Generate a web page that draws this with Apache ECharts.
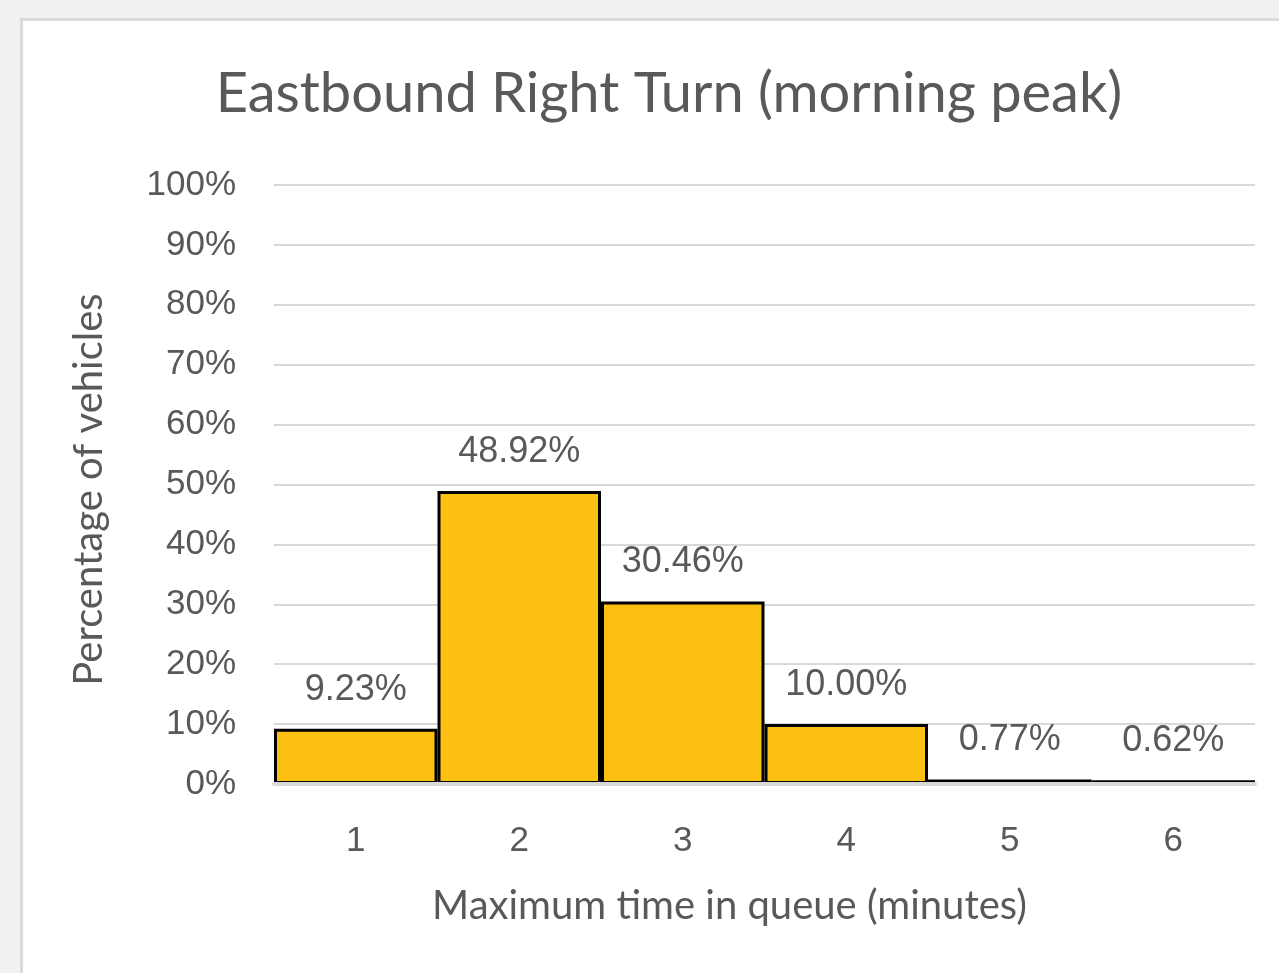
<!DOCTYPE html>
<html>
<head>
<meta charset="utf-8">
<script src="https://cdn.jsdelivr.net/npm/echarts@6/dist/echarts.min.js"></script>
<style>
    html, body { margin: 0; padding: 0; background: #eff1f3; }
    #card { position: absolute; left: 20px; top: 18px; width: 1300px; height: 1000px; background: #fff; border: 3px solid #dadada; }
    #chart { position: absolute; left: 0; top: 0; width: 1279px; height: 973px; }
</style>
</head>
<body>
<div id="card"></div>
<div id="chart"></div>
<script>
// 排队时间分组
const categories = ['1', '2', '3', '4', '5', '6'];
// 车辆百分比
const shares = [9.23, 48.92, 30.46, 10.00, 0.77, 0.62];
// y轴刻度
const yMin = 0;
const yMax = 100;
const yStep = 10;

const textColor = '#595959';
const titleFont = 'Lato, "Open Sans", sans-serif';
const numFont = '"Liberation Sans", Arial, sans-serif';

let myChart = echarts.init(document.getElementById('chart'));

option = {
    backgroundColor: 'transparent',
    title: {
        text: 'Eastbound Right Turn (morning peak)',
        left: 664,
        top: 61,
        textAlign: 'center',
        textStyle: {
            color: textColor,
            fontFamily: titleFont,
            fontWeight: 'normal',
            fontSize: 56
        }
    },
    grid: {
        left: 274,
        right: 24,
        top: 185,
        bottom: 189
    },
    xAxis: {
        type: 'category',
        data: categories,
        z: 10,
        name: 'Maximum time in queue (minutes)',
        nameLocation: 'middle',
        nameGap: 102,
        nameTextStyle: {
            color: textColor,
            fontFamily: titleFont,
            fontSize: 40,
            verticalAlign: 'top',
            padding: [0, 70, 0, 0]  // 标题略偏左
        },
        axisLine: {
            lineStyle: { color: '#d9d9d9', width: 4 }  // 底部轴线盖住柱子下边框
        },
        axisTick: { show: false },
        axisLabel: {
            color: textColor,
            fontFamily: numFont,
            fontSize: 35,
            margin: 40
        }
    },
    yAxis: {
        type: 'value',
        min: yMin,
        max: yMax,
        interval: yStep,
        name: 'Percentage of vehicles',
        nameLocation: 'middle',
        nameGap: 165,
        nameTextStyle: {
            color: textColor,
            fontFamily: titleFont,
            fontSize: 40,
            padding: [0, 10, 0, 0]
        },
        axisLine: { show: false },
        axisTick: { show: false },
        axisLabel: {
            color: textColor,
            fontFamily: numFont,
            fontSize: 35,
            margin: 38,
            formatter: '{value}%'
        },
        splitLine: {
            lineStyle: { color: '#d9d9d9', width: 2 }
        }
    },
    series: [{
        type: 'bar',
        data: shares,
        barCategoryGap: 0,
        itemStyle: {
            color: '#fbc012',
            borderColor: '#000',
            borderWidth: 3
        },
        label: {
            show: true,
            position: 'top',
            distance: 21,
            color: textColor,
            fontFamily: numFont,
            fontSize: 36,
            formatter: function (p) {
                return p.value.toFixed(2) + '%';
            }
        }
    }]
};

myChart.setOption(option);
</script>
</body>
</html>
